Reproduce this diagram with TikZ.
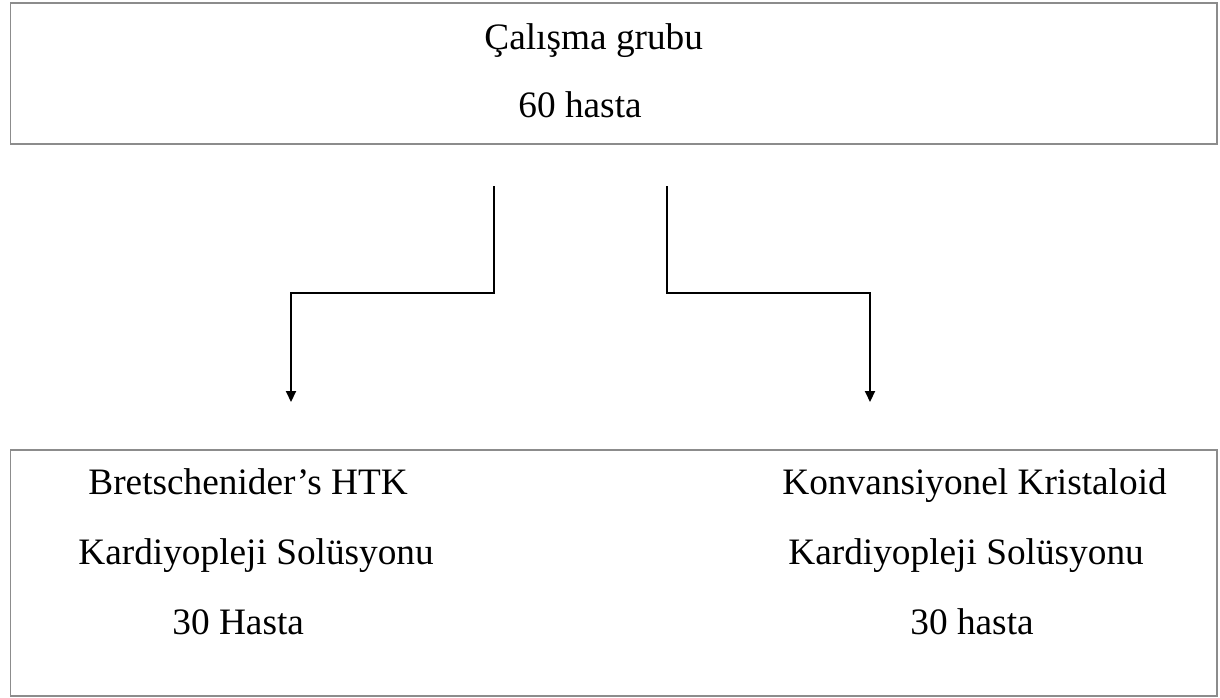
\documentclass[tikz,border=0pt]{standalone}
\usepackage{fontspec}
\setmainfont{Liberation Serif}
\usetikzlibrary{arrows.meta}
\tikzset{
  grpbox/.style={draw=black!45, line width=0.85pt, inner sep=0pt},
  flow/.style={->, line width=1pt},
  lbl/.style={anchor=base west, inner sep=0pt}
}
\begin{document}
\begin{tikzpicture}[x=0.5pt, y=-0.5pt, font=\fontsize{18.65}{22}\selectfont, line join=miter, >={Triangle[width=5pt,length=5.5pt]}]
	\useasboundingbox (0,0) rectangle (1220,697);
	% boxes
	\node[grpbox, minimum width=603.25pt, minimum height=70.5pt] (calisma) at (613.75,73.5) {};
	\node[grpbox, minimum width=603.25pt, minimum height=123pt] (gruplar) at (613.75,573) {};
	% texts
	\node[lbl] (cg) at (484,49) {Çalışma grubu};
	\node[lbl] (ch) at (518,117) {60 hasta};
	\node[lbl] (htka) at (88,494) {Bretschenider’s HTK};
	\node[lbl] (htkb) at (78,564) {Kardiyopleji Solüsyonu};
	\node[lbl] (htkc) at (172,634) {30 Hasta};
	\node[lbl] (kria) at (782,494) {Konvansiyonel Kristaloid};
	\node[lbl] (krib) at (788,564) {Kardiyopleji Solüsyonu};
	\node[lbl] (kric) at (910,634) {30 hasta};
	% connectors
	\coordinate (solA) at (494,186);
	\coordinate (solB) at (291,402);
	\coordinate (sagA) at (667,186);
	\coordinate (sagB) at (870,402);
	\draw[flow] (solA) -- (494,293) -| (solB);
	\draw[flow] (sagA) -- (667,293) -| (sagB);
\end{tikzpicture}
\end{document}
